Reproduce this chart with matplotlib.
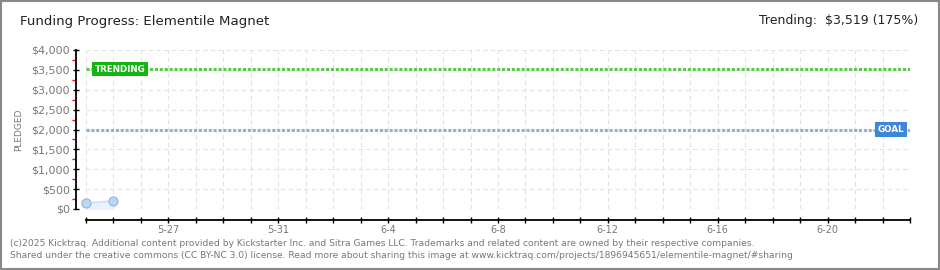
import numpy as np
import matplotlib.pyplot as plt
import matplotlib.dates as mdates
from matplotlib.ticker import MultipleLocator, FuncFormatter
from datetime import datetime

# Data
dates = [datetime(2025, 5, 24), datetime(2025, 5, 25)]
pledged = [145, 210]
goal = 2000
trending = 3519
x_start = datetime(2025, 5, 24)
x_end = datetime(2025, 6, 23)

fig = plt.figure(figsize=(9.4, 2.7), dpi=100)
ax = fig.add_axes([86 / 940, 61 / 270, 824 / 940, 159 / 270])

# grid
ax.set_axisbelow(True)
ax.grid(True, which='major', axis='both', color='#e2e2e2', linestyle=(0, (4, 3)), linewidth=0.8)

# pledged series
ax.fill_between(dates, pledged, 0, color='#e8f1fc', zorder=2)
ax.plot(dates, pledged, color='#c6dcf5', linewidth=1, zorder=3)
ax.plot(dates, pledged, 'o', markersize=6.5, markerfacecolor='#bcd6f5',
        markeredgecolor='#8fb5e0', markeredgewidth=0.8, zorder=4, clip_on=False)

# trending / goal lines
ax.axhline(trending, color='#55cc44', linewidth=2.2, linestyle=(0, (1, 0.6)), zorder=2)
ax.axhline(goal, color='#8fb0d8', linewidth=2.2, linestyle=(0, (1, 0.6)), zorder=2)

ax.text(mdates.date2num(x_start) + 0.33, trending, 'TRENDING', color='white', fontsize=6.3,
        fontweight='bold', va='center', ha='left', zorder=5,
        bbox=dict(boxstyle='square,pad=0.3', facecolor='#13b513', edgecolor='none'))
ax.text(mdates.date2num(x_end) - 0.2, goal, 'GOAL', color='white', fontsize=6.3,
        fontweight='bold', va='center', ha='right', zorder=5,
        bbox=dict(boxstyle='square,pad=0.3', facecolor='#3d86d8', edgecolor='none'))

# axes limits
ax.set_xlim(x_start, x_end)
ax.set_ylim(0, 4000)

# y axis
ax.yaxis.set_major_locator(MultipleLocator(500))
ax.yaxis.set_minor_locator(MultipleLocator(250))
ax.yaxis.set_major_formatter(FuncFormatter(lambda v, p: '${:,.0f}'.format(v)))
ax.tick_params(axis='y', which='major', direction='inout', length=4.5, width=1,
               colors='black', labelcolor='#777777', labelsize=8, pad=2)
ax.tick_params(axis='y', which='minor', direction='out', length=3, width=1, color='red')
ax.set_ylabel('PLEDGED', color='#777777', fontsize=6.5, labelpad=6)

# x axis: a tick every day, a label every 4 days
ax.xaxis.set_major_locator(mdates.DayLocator())
ax.xaxis.set_major_formatter(FuncFormatter(
    lambda v, p: (lambda d: '{}-{}'.format(d.month, d.day) if (d - x_start.date()).days % 4 == 3 else '')(mdates.num2date(v).date())))
ax.tick_params(axis='x', which='major', direction='inout', length=5, width=1,
               colors='black', labelcolor='#777777', labelsize=7, pad=1)

for s in ['top', 'right']:
    ax.spines[s].set_visible(False)
ax.spines['left'].set_position(('outward', 7.2))
ax.spines['bottom'].set_position(('outward', 8))
ax.spines['left'].set_linewidth(1.3)
ax.spines['bottom'].set_linewidth(1.3)

# header
fig.text(20 / 940, 1 - 22 / 270, 'Funding Progress: Elementile Magnet', fontsize=9.6,
         color='#222222', va='center', ha='left')
fig.text(918 / 940, 1 - 21 / 270, 'Trending:  $3,519 (175%)', fontsize=9.0,
         color='#222222', va='center', ha='right')

# footer
fig.text(10 / 940, 1 - 243 / 270,
         '(c)2025 Kicktraq. Additional content provided by Kickstarter Inc. and Sitra Games LLC. '
         'Trademarks and related content are owned by their respective companies.',
         fontsize=6.6, color='#777777', va='center', ha='left')
fig.text(10 / 940, 1 - 256 / 270,
         'Shared under the creative commons (CC BY-NC 3.0) license. Read more about sharing this image at '
         'www.kicktraq.com/projects/1896945651/elementile-magnet/#sharing',
         fontsize=6.6, color='#777777', va='center', ha='left')

# frame
fig.patches.append(plt.Rectangle((0.001, 0.002), 0.998, 0.996, transform=fig.transFigure,
                                 fill=False, edgecolor='#888888', linewidth=1.5))

plt.savefig('out.png', dpi=100)
